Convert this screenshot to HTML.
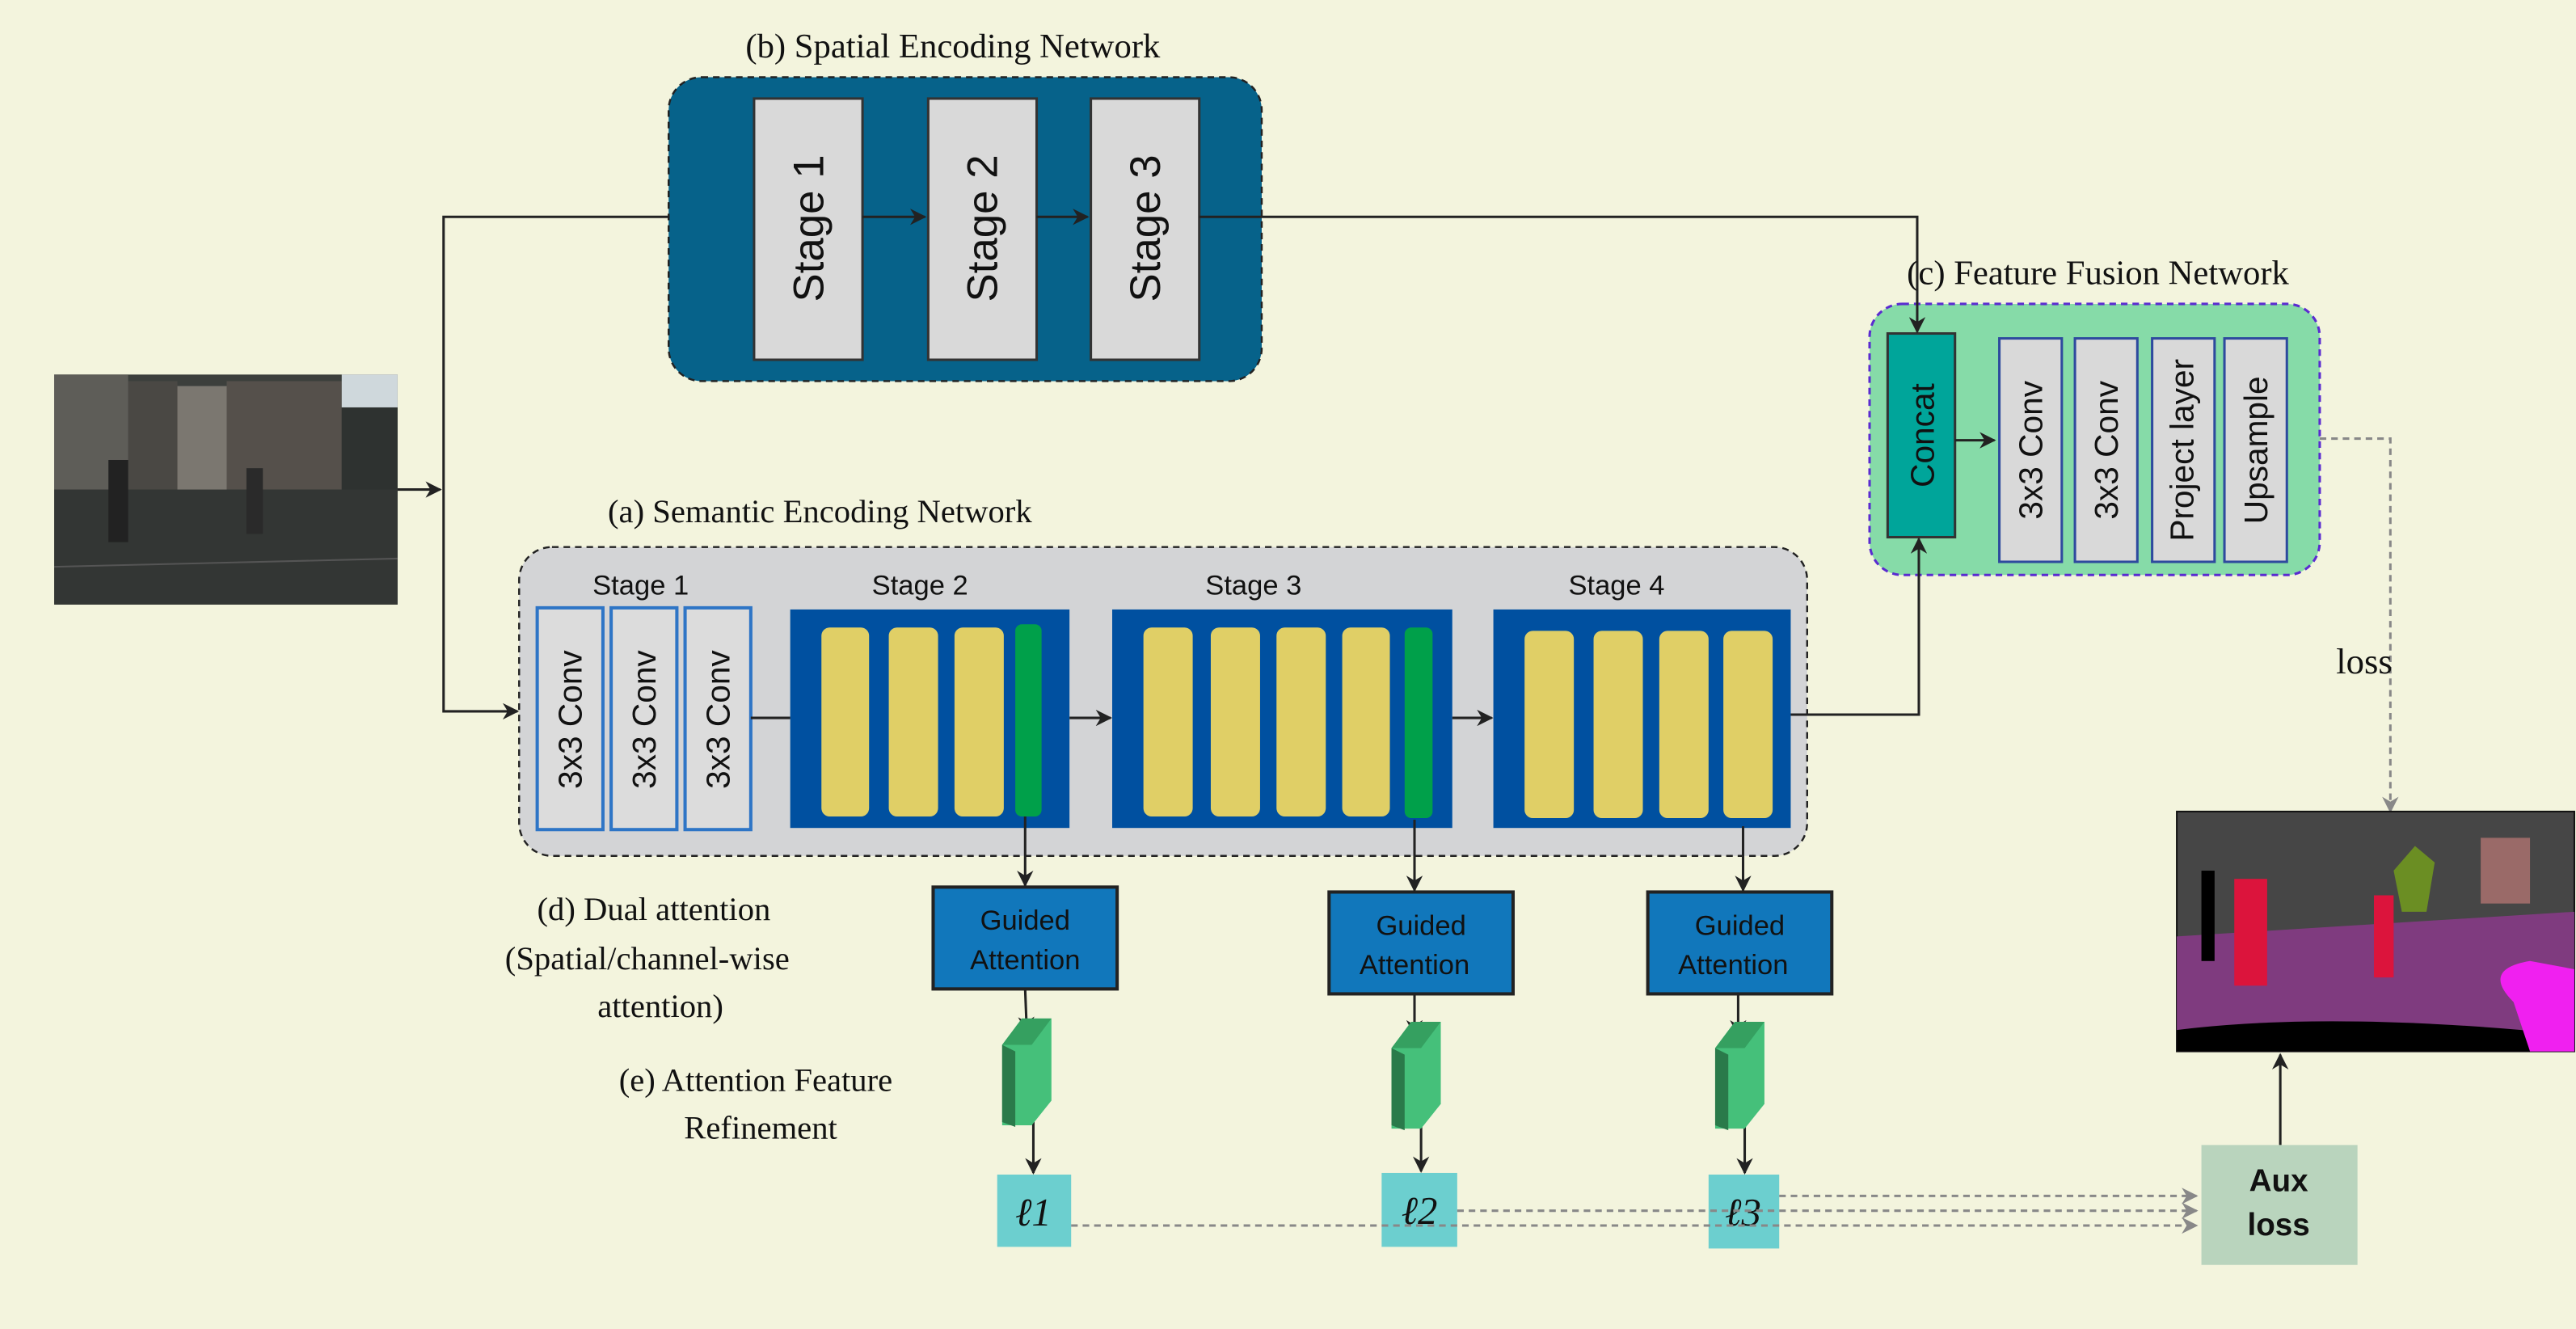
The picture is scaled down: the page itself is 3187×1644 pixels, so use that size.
<!DOCTYPE html>
<html><head><meta charset="utf-8"><style>
html,body{margin:0;padding:0;background:#f3f4dd;}
svg{display:block}
.serif{font-family:"Liberation Serif",serif;fill:#111}
.sans{font-family:"Liberation Sans",sans-serif;fill:#111}
</style></head><body>
<svg width="3187" height="1644" viewBox="0 0 1568 809" preserveAspectRatio="none" xmlns="http://www.w3.org/2000/svg">
<defs>
<marker id="a" markerWidth="10" markerHeight="10" refX="9" refY="5" orient="auto" markerUnits="userSpaceOnUse"><path d="M0,0 L10,5 L0,10 L3,5 z" fill="#222"/></marker>
<marker id="g" markerWidth="10" markerHeight="10" refX="9" refY="5" orient="auto" markerUnits="userSpaceOnUse"><path d="M0,0 L10,5 L0,10 L3,5 z" fill="#888"/></marker>
</defs>
<rect width="1568" height="809" fill="#f3f4dd"/>

<!-- Spatial -->
<text x="580" y="35" class="serif" font-size="21" text-anchor="middle">(b) Spatial Encoding Network</text>
<rect x="407" y="47" width="361" height="185" rx="20" fill="#06628a" stroke="#222" stroke-dasharray="4,3" stroke-width="1.2"/>
<g fill="#d9d9d9" stroke="#333" stroke-width="1.5">
<rect x="459" y="60" width="66" height="159"/><rect x="565" y="60" width="66" height="159"/><rect x="664" y="60" width="66" height="159"/></g>
<g class="sans" font-size="26" text-anchor="middle">
<text transform="translate(501,139) rotate(-90)">Stage 1</text>
<text transform="translate(607,139) rotate(-90)">Stage 2</text>
<text transform="translate(706,139) rotate(-90)">Stage 3</text></g>

<!-- input photo -->
<rect x="33" y="228" width="209" height="140" fill="#3c3f3c"/>
<rect x="33" y="228" width="45" height="70" fill="#5e5d58"/>
<rect x="78" y="232" width="30" height="66" fill="#4a4844"/>
<rect x="108" y="235" width="30" height="65" fill="#7b7770"/>
<rect x="138" y="232" width="70" height="66" fill="#55504b"/>
<rect x="208" y="228" width="34" height="20" fill="#cfd8dc"/>
<rect x="208" y="248" width="34" height="50" fill="#2e3230"/>
<rect x="33" y="298" width="209" height="70" fill="#333634"/>
<rect x="66" y="280" width="12" height="50" fill="#222"/><rect x="150" y="285" width="10" height="40" fill="#2a2a2a"/>
<line x1="33" y1="345" x2="242" y2="340" stroke="#555" stroke-width="1"/>

<!-- Semantic -->
<text x="370" y="318" class="serif" font-size="20">(a)  Semantic Encoding Network</text>
<rect x="316" y="333" width="784" height="188" rx="20" fill="#d3d4d6" stroke="#222" stroke-dasharray="4,3" stroke-width="1.2"/>
<g class="sans" font-size="17" text-anchor="middle">
<text x="390" y="362">Stage 1</text><text x="560" y="362">Stage 2</text><text x="763" y="362">Stage 3</text><text x="984" y="362">Stage 4</text></g>
<g fill="#dcdcdc" stroke="#2e75c6" stroke-width="2">
<rect x="327" y="370" width="40" height="135"/><rect x="372" y="370" width="40" height="135"/><rect x="417" y="370" width="40" height="135"/></g>
<g class="sans" font-size="20" text-anchor="middle">
<text transform="translate(354,438) rotate(-90)">3x3 Conv</text>
<text transform="translate(399,438) rotate(-90)">3x3 Conv</text>
<text transform="translate(444,438) rotate(-90)">3x3 Conv</text></g>
<g fill="#0050a0"><rect x="481" y="371" width="170" height="133"/><rect x="677" y="371" width="207" height="133"/><rect x="909" y="371" width="181" height="133"/></g>
<g fill="#e0cf66">
<rect x="500" y="382" width="29" height="115" rx="5"/><rect x="541" y="382" width="30" height="115" rx="5"/><rect x="581" y="382" width="30" height="115" rx="5"/>
<rect x="696" y="382" width="30" height="115" rx="5"/><rect x="737" y="382" width="30" height="115" rx="5"/><rect x="777" y="382" width="30" height="115" rx="5"/><rect x="817" y="382" width="29" height="115" rx="5"/>
<rect x="928" y="384" width="30" height="114" rx="5"/><rect x="970" y="384" width="30" height="114" rx="5"/><rect x="1010" y="384" width="30" height="114" rx="5"/><rect x="1049" y="384" width="30" height="114" rx="5"/></g>
<g fill="#00a04a"><rect x="618" y="380" width="16" height="117" rx="4"/><rect x="855" y="382" width="17" height="116" rx="4"/></g>

<!-- Fusion -->
<text x="1277" y="173" class="serif" font-size="21" text-anchor="middle">(c) Feature Fusion Network</text>
<rect x="1138" y="185" width="274" height="165" rx="20" fill="#86dba8" stroke="#5a2bd0" stroke-dasharray="4,3" stroke-width="1.5"/>
<rect x="1149" y="203" width="41" height="124" fill="#00a59a" stroke="#333" stroke-width="1.5"/>
<text transform="translate(1177,265) rotate(-90)" class="sans" font-size="20" text-anchor="middle">Concat</text>
<g fill="#d9d9d9" stroke="#2e4a9e" stroke-width="1.5">
<rect x="1217" y="206" width="38" height="136"/><rect x="1263" y="206" width="38" height="136"/><rect x="1310" y="206" width="38" height="136"/><rect x="1354" y="206" width="38" height="136"/></g>
<g class="sans" font-size="20" text-anchor="middle">
<text transform="translate(1243,274) rotate(-90)">3x3 Conv</text>
<text transform="translate(1289,274) rotate(-90)">3x3 Conv</text>
<text transform="translate(1335,274) rotate(-90)">Project layer</text>
<text transform="translate(1380,274) rotate(-90)">Upsample</text></g>
<polyline points="1412,267 1455,267 1455,494" fill="none" stroke="#888" stroke-width="1.5" stroke-dasharray="4,3" marker-end="url(#g)"/>
<text x="1422" y="410" class="serif" font-size="22">loss</text>

<!-- connectors -->
<g stroke="#222" stroke-width="1.5" fill="none">
<line x1="525" y1="132" x2="563" y2="132" marker-end="url(#a)"/>
<line x1="631" y1="132" x2="662" y2="132" marker-end="url(#a)"/>
<polyline points="730,132 1167,132 1167,202" marker-end="url(#a)"/>
<line x1="242" y1="298" x2="268" y2="298" marker-end="url(#a)"/>
<polyline points="407,132 270,132 270,433 315,433" marker-end="url(#a)"/>
<line x1="457" y1="437" x2="481" y2="437"/>
<line x1="651" y1="437" x2="676" y2="437" marker-end="url(#a)"/>
<line x1="884" y1="437" x2="908" y2="437" marker-end="url(#a)"/>
<polyline points="1090,435 1168,435 1168,328" marker-end="url(#a)"/>
<line x1="1190" y1="268" x2="1214" y2="268" marker-end="url(#a)"/>
<line x1="624" y1="497" x2="624" y2="539" marker-end="url(#a)"/>
<line x1="861" y1="499" x2="861" y2="542" marker-end="url(#a)"/>
<line x1="1061" y1="503" x2="1061" y2="542" marker-end="url(#a)"/>
<line x1="624" y1="602" x2="625" y2="628" marker-end="url(#a)"/>
<line x1="861" y1="605" x2="861" y2="630" marker-end="url(#a)"/>
<line x1="1058" y1="605" x2="1058" y2="630" marker-end="url(#a)"/>
<line x1="629" y1="678" x2="629" y2="714" marker-end="url(#a)"/>
<line x1="865" y1="680" x2="865" y2="713" marker-end="url(#a)"/>
<line x1="1062" y1="680" x2="1062" y2="714" marker-end="url(#a)"/>
<line x1="1388" y1="697" x2="1388" y2="642" marker-end="url(#a)"/>
</g>

<!-- seg image -->
<rect x="1325" y="494" width="242" height="146" fill="#464646" stroke="#111"/>
<path d="M1325,570 L1567,555 L1567,640 L1325,640 z" fill="#7f3b7f"/>
<path d="M1325,627 Q1420,615 1567,630 L1567,640 L1325,640 z" fill="#000"/>
<rect x="1510" y="510" width="30" height="40" fill="#9a6a68"/>
<path d="M1470,515 l12,10 l-5,30 l-15,0 l-5,-25 z" fill="#6b8e23"/>
<path d="M1530,610 Q1510,590 1540,585 L1567,590 L1567,640 L1540,640 z" fill="#f020f0"/>
<rect x="1360" y="535" width="20" height="65" fill="#dc143c"/><rect x="1445" y="545" width="12" height="50" fill="#dc143c"/>
<rect x="1340" y="530" width="8" height="55" fill="#000"/>

<!-- Aux loss -->
<rect x="1340" y="697" width="95" height="73" fill="#b9d4bd"/>
<text x="1387" y="725" class="sans" font-size="19" font-weight="bold" text-anchor="middle">Aux</text>
<text x="1387" y="752" class="sans" font-size="19" font-weight="bold" text-anchor="middle">loss</text>

<!-- Guided attention -->
<g fill="#1177bb" stroke="#222" stroke-width="2">
<rect x="568" y="540" width="112" height="62"/><rect x="809" y="543" width="112" height="62"/><rect x="1003" y="543" width="112" height="62"/></g>
<g class="sans" font-size="17" text-anchor="middle">
<text x="624" y="566">Guided</text><text x="624" y="590">Attention</text>
<text x="865" y="569">Guided</text><text x="861" y="593">Attention</text>
<text x="1059" y="569">Guided</text><text x="1055" y="593">Attention</text></g>

<!-- prisms -->
<g>
<path d="M610,636 L622,620 L640,620 L640,670 L628,685 L610,685 z" fill="#45c07a"/>
<path d="M610,636 L622,620 L640,620 L628,636 z" fill="#35a060"/>
<path d="M610,636 L618,640 L618,686 L610,683 z" fill="#2a7a4a"/>
</g>
<g transform="translate(237,2)">
<path d="M610,636 L622,620 L640,620 L640,670 L628,685 L610,685 z" fill="#45c07a"/>
<path d="M610,636 L622,620 L640,620 L628,636 z" fill="#35a060"/>
<path d="M610,636 L618,640 L618,686 L610,683 z" fill="#2a7a4a"/>
</g>
<g transform="translate(434,2)">
<path d="M610,636 L622,620 L640,620 L640,670 L628,685 L610,685 z" fill="#45c07a"/>
<path d="M610,636 L622,620 L640,620 L628,636 z" fill="#35a060"/>
<path d="M610,636 L618,640 L618,686 L610,683 z" fill="#2a7a4a"/>
</g>

<!-- l boxes -->
<g fill="#6ccfcf"><rect x="607" y="715" width="45" height="44"/><rect x="841" y="714" width="46" height="45"/><rect x="1040" y="715" width="43" height="45"/></g>
<g class="serif" font-size="24" font-style="italic" text-anchor="middle">
<text x="629" y="746">ℓ1</text><text x="864" y="745">ℓ2</text><text x="1061" y="746">ℓ3</text></g>
<g stroke="#888" stroke-width="1.5" stroke-dasharray="4,3" fill="none">
<line x1="652" y1="746" x2="1337" y2="746" marker-end="url(#g)"/>
<line x1="887" y1="737" x2="1337" y2="737" marker-end="url(#g)"/>
<line x1="1083" y1="728" x2="1337" y2="728" marker-end="url(#g)"/>
</g>

<!-- left labels -->
<g class="serif" font-size="20" text-anchor="middle">
<text x="398" y="560">(d) Dual attention</text>
<text x="394" y="590">(Spatial/channel-wise</text>
<text x="402" y="619">attention)</text>
<text x="460" y="664">(e) Attention Feature</text>
<text x="463" y="693">Refinement</text></g>
</svg>
</body></html>
